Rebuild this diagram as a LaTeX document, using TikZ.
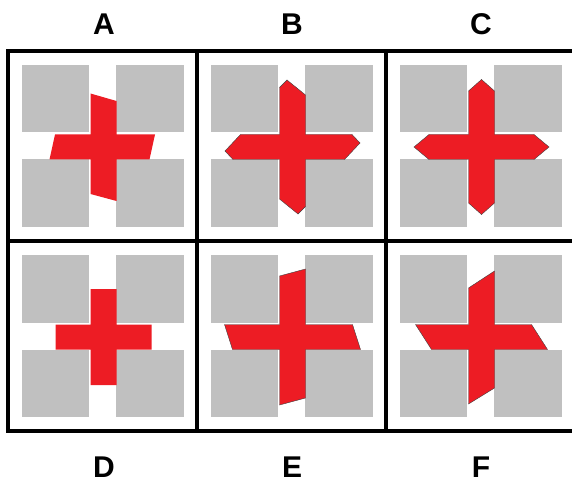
\documentclass[tikz,border=0pt]{standalone}
\usepackage{fontspec}
\setmainfont{Liberation Sans}
\definecolor{CrossRed}{RGB}{237,28,36}
\definecolor{TileGray}{RGB}{192,192,192}

\begin{document}
\begin{tikzpicture}[
  x=1pt, y=-1pt,
  frame/.style={draw=black, line width=3.5pt},
  tile/.style={fill=TileGray},
  cross/.style={fill=CrossRed},
  crossline/.style={fill=CrossRed, draw=black!75, line width=0.4pt, line join=miter},
  letter/.style={font=\bfseries\fontsize{30}{30}\selectfont, inner sep=0pt, anchor=base}
]
\useasboundingbox (0,0) rectangle (572,486);
% grey tiles
\foreach \cx in {102.5,291.5,480.5}
  \foreach \cy in {146,336}
    \foreach \dx/\dy in {-1/-1,1/-1,-1/1,1/1}
      \fill[tile] ({\cx+\dx*13.5},{\cy+\dy*13.5}) rectangle ({\cx+\dx*81},{\cy+\dy*81});
% red crosses
\fill[cross, shift={(103.5,147)}] (-13,-53.5) -- (13,-46) -- (13,-12.5) -- (51.5,-12.5) -- (46,12.5) -- (13,12.5) -- (13,54) -- (-13,47) -- (-13,12.5) -- (-54,12.5) -- (-48.5,-12.5) -- (-13,-12.5) -- cycle;
\filldraw[crossline, shift={(292.5,147)}] (-13,-59.5) -- (-5.5,-67) -- (13,-52) -- (13,-12.5) -- (59.5,-12.5) -- (67.5,-4) -- (52,12.5) -- (13,12.5) -- (13,59.5) -- (5.5,67) -- (-13,52) -- (-13,12.5) -- (-59.5,12.5) -- (-67.5,4) -- (-52,-12.5) -- (-13,-12.5) -- cycle;
\filldraw[crossline, shift={(481.5,147)}] (-13,-56) -- (0,-67.5) -- (13,-56) -- (13,-12.5) -- (52.5,-12.5) -- (67.5,0) -- (52.5,12.5) -- (13,12.5) -- (13,56) -- (0,67.5) -- (-13,56) -- (-13,12.5) -- (-52.5,12.5) -- (-67.5,0) -- (-52.5,-12.5) -- (-13,-12.5) -- cycle;
\fill[cross, shift={(103.5,337)}] (-13,-48) -- (13,-48) -- (13,-12.5) -- (48,-12.5) -- (48,12.5) -- (13,12.5) -- (13,48) -- (-13,48) -- (-13,12.5) -- (-48,12.5) -- (-48,-12.5) -- (-13,-12.5) -- cycle;
\filldraw[crossline, shift={(292.5,337)}] (-13,-61) -- (13,-68) -- (13,-12.5) -- (60,-12.5) -- (68,12.5) -- (13,12.5) -- (13,61) -- (-13,68) -- (-13,12.5) -- (-60,12.5) -- (-68,-12.5) -- (-13,-12.5) -- cycle;
\filldraw[crossline, shift={(481.5,337)}] (-13,-49) -- (13,-66) -- (13,-12.5) -- (50,-12.5) -- (66,12.5) -- (13,12.5) -- (13,51) -- (-13,67) -- (-13,12.5) -- (-50,12.5) -- (-66,-12.5) -- (-13,-12.5) -- cycle;
% grid
\draw[frame] (8,51) rectangle (575,431);
\draw[frame] (8,241) -- (575,241);
\foreach \gx in {197,386}
  \draw[frame] (\gx,51) -- (\gx,431);
% labels
\node[letter] (labA) at (104,35) {A};
\node[letter] (labB) at (292,35) {B};
\node[letter] (labC) at (481,35) {C};
\node[letter] (labD) at (104,477) {D};
\node[letter] (labE) at (292,477) {E};
\node[letter] (labF) at (481,477) {F};
\end{tikzpicture}
\end{document}
